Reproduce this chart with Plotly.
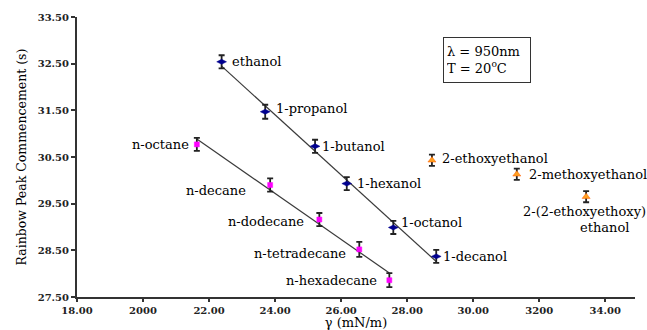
import numpy as np
import plotly.graph_objects as go

# ---- data ----
alcohol_names = ["ethanol", "1-propanol", "1-butanol", "1-hexanol", "1-octanol", "1-decanol"]
alcohol_gamma = [22.38, 23.70, 25.21, 26.17, 27.58, 28.88]
alcohol_time = [32.54, 31.47, 30.73, 29.93, 28.99, 28.37]
alcohol_err = [0.14, 0.15, 0.14, 0.14, 0.14, 0.14]

alkane_names = ["n-octane", "n-decane", "n-dodecane", "n-tetradecane", "n-hexadecane"]
alkane_gamma = [21.63, 23.85, 25.34, 26.55, 27.46]
alkane_time = [30.77, 29.90, 29.16, 28.52, 27.86]
alkane_err = [0.14, 0.14, 0.14, 0.16, 0.15]

ether_names = ["2-ethoxyethanol", "2-methoxyethanol", "2-(2-ethoxyethoxy)<br>ethanol"]
ether_gamma = [28.75, 31.32, 33.42]
ether_time = [30.43, 30.13, 29.65]
ether_err = [0.12, 0.12, 0.12]

x_tickvals = [18, 20, 22, 24, 26, 28, 30, 32, 34]
x_ticktext = ["18.00", "2000", "22.00", "24.00", "26.00", "28.00", "30.00", "3200", "34.00"]
y_tickvals = [27.5, 28.5, 29.5, 30.5, 31.5, 32.5, 33.5]
y_ticktext = ["27.50", "28.50", "29.50", "30.50", "31.50", "32.50", "33.50"]

# ---- label placement (style) ----
alcohol_lbl = [(8, 0), (9, 3), (5, 0), (8, 0), (6, 5), (5, 0)]           # left-anchored
alkane_lbl = [(-6, 0), (-22, -5), (-13, -2), (-11, -4), (-10, 0)]        # right-anchored
ether_lbl = [(8, 2), (10, 0)]

FONT = "DejaVu Serif"
LBL = 13

fig = go.Figure()

# trend lines (least squares through each series)
for gx, gy in [(alcohol_gamma, alcohol_time), (alkane_gamma, alkane_time)]:
    k, b = np.polyfit(gx, gy, 1)
    xs = [min(gx), max(gx)]
    fig.add_trace(go.Scatter(x=xs, y=[k * v + b for v in xs], mode="lines",
                             line=dict(color="#3a3a3a", width=1.2),
                             hoverinfo="skip", showlegend=False))

def add_series(gx, gy, ge, color, symbol, size, lcolor):
    fig.add_trace(go.Scatter(
        x=gx, y=gy, mode="markers",
        marker=dict(color=color, symbol=symbol, size=size, line=dict(color=lcolor, width=0.5)),
        error_y=dict(type="data", array=ge, visible=True, color="#222222", thickness=1.8, width=3),
        showlegend=False))

add_series(alcohol_gamma, alcohol_time, alcohol_err, "#00008f", "diamond-wide", 7, "#00008f")
add_series(alkane_gamma, alkane_time, alkane_err, "#ff00ff", "square", 5, "#ff00ff")
add_series(ether_gamma, ether_time, ether_err, "#ffa020", "triangle-up", 7, "#ff5a00")

ann = []
for n, x, y, (dx, dy) in zip(alcohol_names, alcohol_gamma, alcohol_time, alcohol_lbl):
    ann.append(dict(x=x, y=y, text=n, xanchor="left", yanchor="middle", xshift=dx, yshift=dy))
for n, x, y, (dx, dy) in zip(alkane_names, alkane_gamma, alkane_time, alkane_lbl):
    ann.append(dict(x=x, y=y, text=n, xanchor="right", yanchor="middle", xshift=dx, yshift=dy))
for n, x, y, (dx, dy) in zip(ether_names[:2], ether_gamma[:2], ether_time[:2], ether_lbl):
    ann.append(dict(x=x, y=y, text=n, xanchor="left", yanchor="middle", xshift=dx, yshift=dy))
l1, l2 = ether_names[2].split("<br>")
ann.append(dict(x=ether_gamma[2], y=ether_time[2], text=l1, xanchor="center", yanchor="middle", xshift=-2, yshift=-15))
ann.append(dict(x=ether_gamma[2], y=ether_time[2], text=l2, xanchor="center", yanchor="middle", xshift=18, yshift=-31))
for a in ann:
    a.update(xref="x", yref="y", showarrow=False, font=dict(family=FONT, size=LBL, color="black"))

ann.append(dict(xref="paper", yref="paper", x=0.656, y=0.928, xanchor="left", yanchor="top",
                text="λ = 950nm<br>T = 20<sup>o</sup>C", align="left", showarrow=False,
                bordercolor="#333333", borderwidth=1, borderpad=3, width=80, height=38,
                font=dict(family=FONT, size=LBL, color="black")))

fig.update_layout(
    width=647, height=330,
    margin=dict(l=77, r=12, t=17, b=33),
    paper_bgcolor="white", plot_bgcolor="white",
    font=dict(family=FONT),
    annotations=ann,
    xaxis=dict(range=[18, 34.9], tickvals=x_tickvals, ticktext=x_ticktext, automargin=False,
               showgrid=False, zeroline=False, showline=True, linecolor="#333333", linewidth=2,
               ticks="outside", ticklen=3, tickwidth=2, tickcolor="#333333",
               tickfont=dict(family=FONT, size=10, color="#222222", weight="bold"),
               title=dict(text="γ (mN/m)", font=dict(family=FONT, size=LBL, color="black"), standoff=4)),
    yaxis=dict(range=[27.5, 33.5], tickvals=y_tickvals, ticktext=y_ticktext, automargin=False,
               showgrid=False, zeroline=False, showline=True, linecolor="#333333", linewidth=2,
               ticks="outside", ticklen=4, tickwidth=2, tickcolor="#333333",
               tickfont=dict(family=FONT, size=10, color="#222222", weight="bold"),
               title=dict(text="Rainbow Peak Commencement (s)", font=dict(family=FONT, size=12.5, color="black"), standoff=8)),
)

fig.write_html("out.html")
